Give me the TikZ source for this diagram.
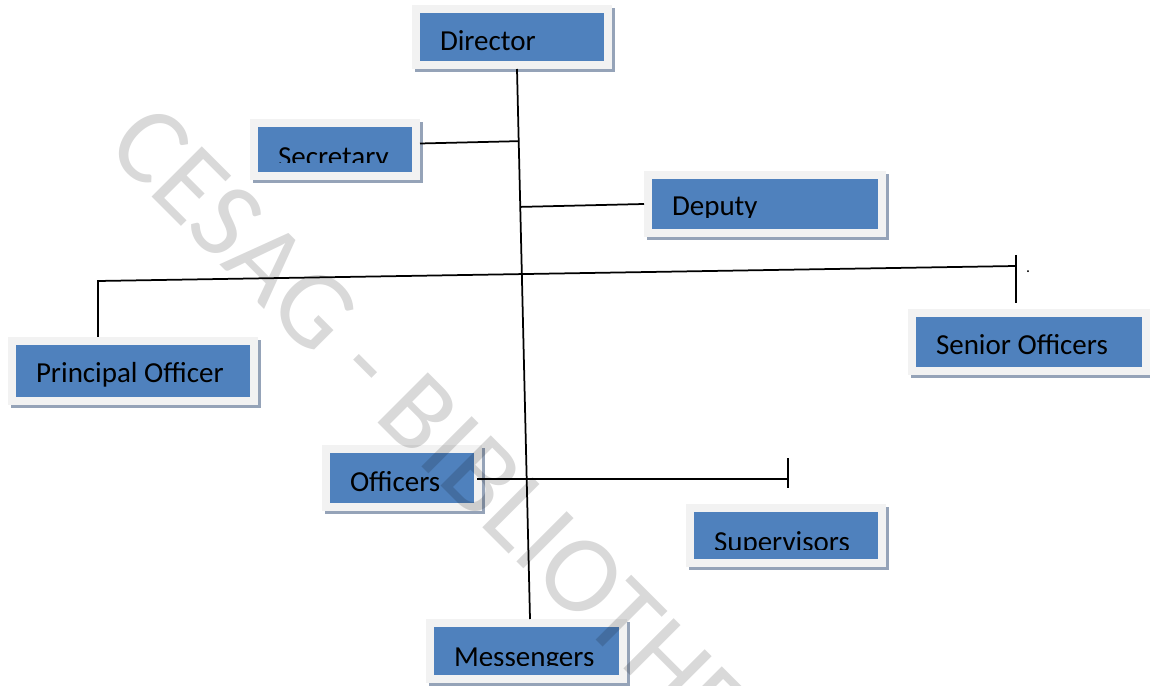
\documentclass[tikz,border=0pt]{standalone}
\usepackage{fontspec}
\setmainfont{Carlito}
\usepackage{tikz}
\usetikzlibrary{positioning, calc}
\definecolor{boxblue}{HTML}{4F81BD}
\definecolor{framegray}{HTML}{F2F2F2}
\definecolor{shadowgray}{HTML}{95A3B8}
\newcommand{\boxfont}{\fontsize{16.5}{18}\selectfont}
\tikzset{orgbox/.style n args={3}{rectangle, inner sep=0pt, fill=boxblue, draw=framegray, line width=1.6mm,
    preaction={draw=shadowgray, fill=shadowgray, transform canvas={shift={(0.6mm,-0.6mm)}}},
    path picture={
        \clip (path picture bounding box.north west) rectangle ([yshift=#3]path picture bounding box.south east);
        \node[anchor=base west, inner sep=0pt, minimum width=0pt, minimum height=0pt, text=black, font=\boxfont] at ([xshift=4.0mm, yshift=#2]path picture bounding box.south west) {#1};
    }}}
\tikzstyle{orgline} = [line width=0.35mm, black]
\tikzstyle{watermark} = [inner sep=0pt, text=black, text opacity=0.15, font=\fontsize{63}{63}\selectfont]

\begin{document}
\begin{tikzpicture}
            \useasboundingbox (0,0) rectangle (23,-13.72);

            % Place nodes
            \node (dir) [orgbox={Director}{2.8mm}{0.8mm}, minimum width=38.4mm, minimum height=11.2mm] at (10.24,-0.74) {};
            \node (sec) [orgbox={Secretary}{1.8mm}{2.6mm}, minimum width=32.4mm, minimum height=10.6mm, below of=dir, node distance=2.25cm, xshift=-3.54cm] {};
            \node (dep) [orgbox={Deputy}{3.4mm}{3.0mm}, minimum width=46.8mm, minimum height=11.6mm, below of=dir, node distance=3.34cm, xshift=5.06cm] {};
            \node (pri) [orgbox={Principal Officer}{3.6mm}{0.8mm}, minimum width=48.4mm, minimum height=12mm, below of=dir, node distance=6.68cm, xshift=-7.58cm] {};
            \node (sen) [orgbox={Senior Officers}{3.2mm}{0.8mm}, minimum width=46.8mm, minimum height=11.6mm, below of=dir, node distance=6.10cm, xshift=10.34cm] {};
            \node (off) [orgbox={Officers}{3.2mm}{0.8mm}, minimum width=30.4mm, minimum height=11.6mm, below of=dir, node distance=8.82cm, xshift=-2.20cm] {};
            \node (sup) [orgbox={Supervisors}{2.4mm}{2.8mm}, minimum width=38.4mm, minimum height=11mm, below of=dir, node distance=9.97cm, xshift=5.48cm] {};
            \node (mes) [orgbox={Messengers}{2.6mm}{2.8mm}, minimum width=38.6mm, minimum height=11.2mm, below of=dir, node distance=12.28cm, xshift=0.29cm] {};

            % Draw edges
            \coordinate (spinetop) at ([xshift=1mm]dir.south);
            \coordinate (spinebot) at ([xshift=0.7mm]mes.north);
            \draw [orgline] (spinetop) -- (spinebot);
            \coordinate (secjoin) at ([yshift=1.2mm]sec.east);
            \draw [orgline] (secjoin) -- ($(spinetop)!(secjoin)!(spinebot)$);
            \draw [orgline] (dep.west) -- ($(spinetop)!(dep.west)!(spinebot)$);
            \coordinate (prijoin) at ([xshift=-7mm, yshift=11.2mm]pri.north);
            \coordinate (senjoin) at ([xshift=-2.6mm, yshift=8.6mm]sen.north);
            \draw [orgline] ([xshift=-7mm]pri.north) -- (prijoin) -- (senjoin);
            \draw [orgline] ([yshift=2.2mm]senjoin) -- ([yshift=-7.4mm]senjoin);
            \node (dot) [anchor=base, inner sep=0pt, font=\fontsize{9}{9}\selectfont] at ([xshift=2.4mm, yshift=-1.4mm]senjoin) {.};
            \coordinate (offjoin) at ([xshift=-1mm, yshift=-0.2mm]off.east);
            \coordinate (supjoin) at ([xshift=62.2mm]offjoin);
            \draw [orgline] (offjoin) -- (supjoin);
            \draw [orgline] ([yshift=4.2mm]supjoin) -- ([yshift=-1.8mm]supjoin);

            % Watermark across the page
            \node (mark) [watermark, rotate=-45, anchor=base west] at (2.09,-2.99) {CESAG - BIBLIOTHE};
\end{tikzpicture}
\end{document}
